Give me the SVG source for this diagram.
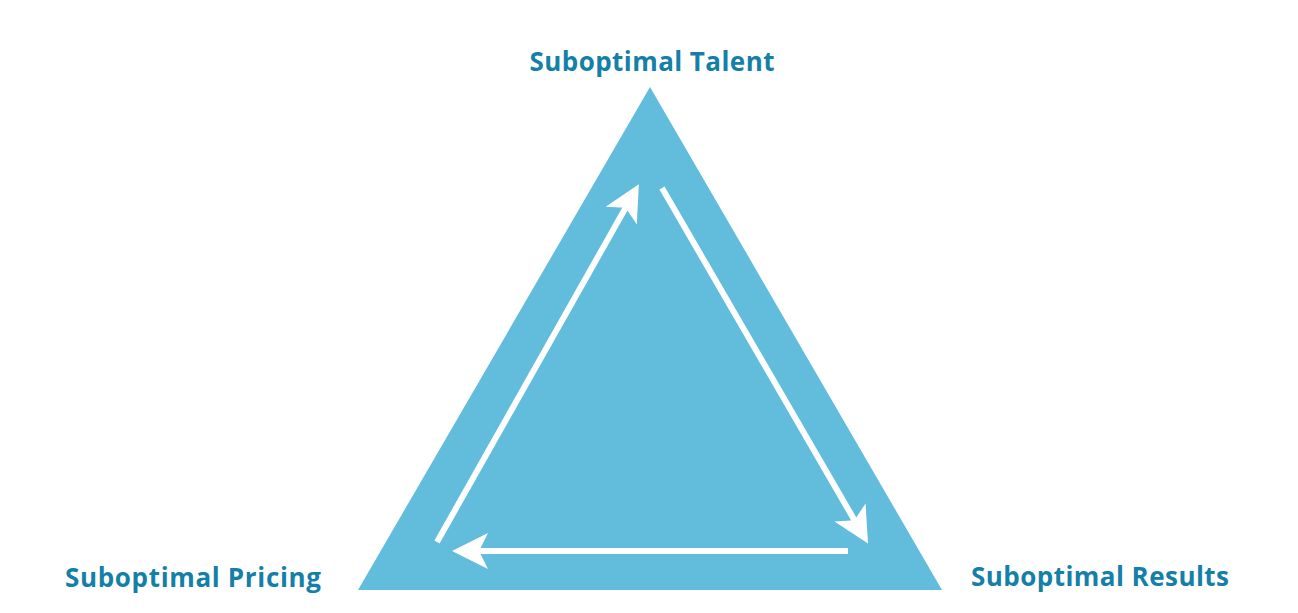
<svg xmlns="http://www.w3.org/2000/svg" width="1298" height="613" viewBox="0 0 1298 613">
<style>
.lbl{font-family:"Open Sans","Liberation Sans",sans-serif;font-weight:bold;font-size:26px;fill:#1480A8}
.arr{stroke:#fff;stroke-width:6;fill:none}
</style>
<defs>
<marker id="ah" markerWidth="6" markerHeight="6" refX="3" refY="3" orient="auto" markerUnits="strokeWidth">
<path d="M0,0 L6,3 L0,6 L1.5,3 Z" fill="#fff"/>
</marker>
</defs>
<rect width="1298" height="613" fill="#fff"/>
<g id="triangle"><polygon points="650,87 358,590 942,590" fill="#62BCDC"/></g>
<g id="talent"><text class="lbl" x="652" y="71" text-anchor="middle" textLength="245">Suboptimal Talent</text></g>
<g id="pricing"><text class="lbl" x="65" y="587" textLength="256">Suboptimal Pricing</text></g>
<g id="results"><text class="lbl" x="971" y="586" textLength="258">Suboptimal Results</text></g>
<g id="connectors">
<line class="arr" x1="437" y1="542" x2="630" y2="200" marker-end="url(#ah)"/>
<line class="arr" x1="662" y1="188" x2="859" y2="528" marker-end="url(#ah)"/>
<line class="arr" x1="848" y1="551" x2="470" y2="551" marker-end="url(#ah)"/>
</g>
</svg>
